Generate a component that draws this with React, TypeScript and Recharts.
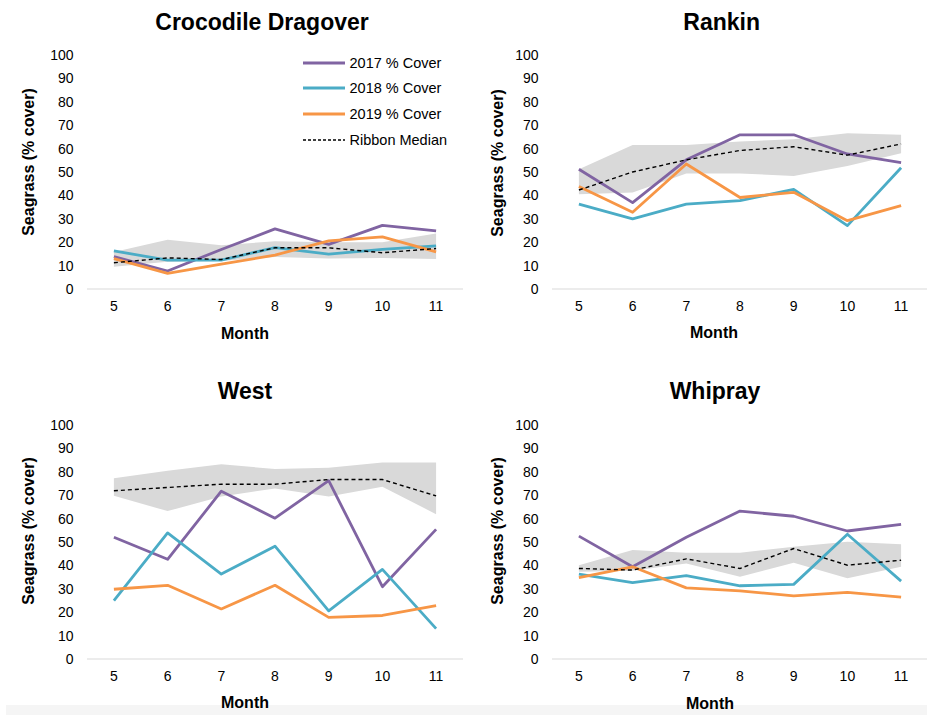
import React from 'react';
import { ComposedChart, Line, Area, XAxis, YAxis, Legend } from 'recharts';

// ---------- data ----------
const months = [5, 6, 7, 8, 9, 10, 11];
const yTicks = [0, 10, 20, 30, 40, 50, 60, 70, 80, 90, 100];

const seriesNames = ['2017 % Cover', '2018 % Cover', '2019 % Cover', 'Ribbon Median'];

// Crocodile Dragover
const cd2017 = [13.8, 7.7, 16.9, 25.7, 19.1, 27.2, 24.8];
const cd2018 = [16.3, 12.3, 12.3, 17.7, 14.9, 16.9, 18.4];
const cd2019 = [13.0, 6.7, 10.6, 14.5, 20.6, 22.3, 15.9];
const cdMedian = [11.2, 13.3, 12.6, 17.6, 17.6, 15.5, 17.3];
const cdLow = [9.5, 11.6, 12.0, 13.7, 13.0, 13.3, 12.8];
const cdHigh = [15.8, 21.1, 18.7, 20.4, 20.0, 20.0, 23.7];

// Rankin
const rk2017 = [51.2, 36.9, 55.2, 65.9, 65.9, 57.7, 54.0];
const rk2018 = [36.3, 30.0, 36.3, 37.8, 42.6, 27.1, 51.8];
const rk2019 = [43.8, 32.8, 53.4, 39.1, 41.3, 29.2, 35.6];
const rkMedian = [42.3, 50.0, 55.2, 59.2, 60.8, 57.2, 62.0];
const rkLow = [40.5, 41.2, 49.4, 49.4, 48.3, 52.6, 58.0];
const rkHigh = [51.2, 61.5, 61.5, 63.0, 64.0, 66.6, 65.9];

// West
const w2017 = [52.0, 42.6, 71.7, 60.2, 76.2, 30.9, 55.4];
const w2018 = [24.9, 53.9, 36.3, 48.2, 20.6, 38.3, 13.0];
const w2019 = [29.8, 31.5, 21.4, 31.5, 17.8, 18.6, 22.8];
const wMedian = [71.9, 73.3, 74.7, 74.7, 76.7, 76.7, 69.7];
const wLow = [69.8, 63.2, 69.4, 72.9, 69.4, 73.6, 61.9];
const wHigh = [77.2, 80.5, 83.2, 81.2, 81.7, 84.0, 84.0];

// Whipray
const wp2017 = [52.5, 39.4, 52.0, 63.2, 61.0, 54.7, 57.5];
const wp2018 = [36.3, 32.6, 35.6, 31.3, 31.9, 53.3, 33.3];
const wp2019 = [34.8, 39.4, 30.4, 29.1, 27.0, 28.5, 26.4];
const wpMedian = [38.7, 38.0, 42.8, 38.7, 47.2, 40.1, 42.2];
const wpLow = [37.3, 37.7, 40.8, 35.2, 41.1, 34.5, 39.4];
const wpHigh = [40.1, 46.6, 45.4, 45.4, 48.0, 50.1, 49.0];

// ---------- styles ----------
const FONT = '"Liberation Sans", Arial, Helvetica, sans-serif';
const C2017 = '#8064A2';
const C2018 = '#4BACC6';
const C2019 = '#F79646';
const CMED = '#000000';
const CRIB = '#D9D9D9';

const legendItems = [
  { name: seriesNames[0], color: C2017, dash: undefined as string | undefined, w: 3 },
  { name: seriesNames[1], color: C2018, dash: undefined as string | undefined, w: 3 },
  { name: seriesNames[2], color: C2019, dash: undefined as string | undefined, w: 3 },
  { name: seriesNames[3], color: CMED, dash: '3 2', w: 1.3 },
];

function buildData(a: number[], b: number[], c: number[], m: number[], lo: number[], hi: number[]) {
  return months.map((mo, i) => ({
    month: mo,
    y2017: a[i],
    y2018: b[i],
    y2019: c[i],
    median: m[i],
    ribbon: [lo[i], hi[i]],
  }));
}

const LegendBox = () => (
  <div style={{ fontFamily: FONT, fontSize: 14.5, color: '#000' }}>
    {legendItems.map((it) => (
      <div key={it.name} style={{ display: 'flex', alignItems: 'center', height: 25.6 }}>
        <svg width={47} height={10} style={{ display: 'block' }}>
          <line x1={0} x2={42} y1={5} y2={5} stroke={it.color} strokeWidth={it.w} strokeDasharray={it.dash} />
        </svg>
        <span style={{ whiteSpace: 'nowrap' }}>{it.name}</span>
      </div>
    ))}
  </div>
);

const Y_AXIS_W = 80;
const PLOT_W = 376;
const PLOT_H = 234;
const X_PAD = 26.9;

type PanelProps = {
  title: string;
  data: any[];
  plotLeft: number;
  plotTop: number;
  titleX: number;
  titleY: number;
  yLabelX: number;
  yLabelY: number;
  monthX: number;
  monthY: number;
  legend?: boolean;
};

const Panel = (p: PanelProps) => {
  const chartW = Y_AXIS_W + PLOT_W + 10;
  const chartH = 10 + PLOT_H + 40;
  return (
    <>
      <div
        style={{
          position: 'absolute', left: p.titleX, top: p.titleY, transform: 'translate(-50%, -50%)',
          fontFamily: FONT, fontWeight: 700, fontSize: 23, whiteSpace: 'nowrap', color: '#000',
        }}
      >
        {p.title}
      </div>
      <div
        style={{
          position: 'absolute', left: p.yLabelX, top: p.yLabelY, transform: 'translate(-50%, -50%) rotate(-90deg)',
          fontFamily: FONT, fontWeight: 700, fontSize: 16, whiteSpace: 'nowrap', color: '#000',
        }}
      >
        Seagrass (% cover)
      </div>
      <div
        style={{
          position: 'absolute', left: p.monthX, top: p.monthY, transform: 'translate(-50%, -50%)',
          fontFamily: FONT, fontWeight: 700, fontSize: 16, whiteSpace: 'nowrap', color: '#000',
        }}
      >
        Month
      </div>
      <div style={{ position: 'absolute', left: p.plotLeft - Y_AXIS_W, top: p.plotTop - 10 }}>
        <ComposedChart width={chartW} height={chartH} data={p.data} margin={{ top: 10, right: 10, bottom: 0, left: 0 }}>
          <XAxis
            dataKey="month"
            type="category"
            height={40}
            padding={{ left: X_PAD, right: X_PAD }}
            axisLine={{ stroke: '#D9D9D9', strokeWidth: 1.2 }}
            tickLine={false}
            tickSize={0}
            tickMargin={12.5}
            interval={0}
            tick={{ fill: '#000', fontSize: 14, fontFamily: FONT }}
          />
          <YAxis
            type="number"
            domain={[0, 100]}
            ticks={yTicks}
            interval={0}
            width={Y_AXIS_W}
            axisLine={false}
            tickLine={false}
            tickSize={0}
            tickMargin={13.5}
            tick={{ fill: '#000', fontSize: 14, fontFamily: FONT }}
          />
          <Area
            dataKey="ribbon"
            type="linear"
            fill={CRIB}
            fillOpacity={1}
            stroke="none"
            isAnimationActive={false}
            legendType="none"
            activeDot={false}
          />
          <Line dataKey="y2017" name={seriesNames[0]} type="linear" stroke={C2017} strokeWidth={2.8} dot={false} isAnimationActive={false} strokeLinejoin="round" />
          <Line dataKey="y2018" name={seriesNames[1]} type="linear" stroke={C2018} strokeWidth={2.8} dot={false} isAnimationActive={false} strokeLinejoin="round" />
          <Line dataKey="y2019" name={seriesNames[2]} type="linear" stroke={C2019} strokeWidth={2.8} dot={false} isAnimationActive={false} strokeLinejoin="round" />
          <Line dataKey="median" name={seriesNames[3]} type="linear" stroke={CMED} strokeWidth={1.4} strokeDasharray="4 3" dot={false} isAnimationActive={false} />
          {p.legend ? (
            <Legend
              layout="vertical"
              align="center"
              verticalAlign="middle"
              content={() => <LegendBox />}
              wrapperStyle={{ position: 'absolute', left: 296, top: 5, width: 190, height: 'auto' }}
            />
          ) : null}
        </ComposedChart>
      </div>
    </>
  );
};

const cdData = buildData(cd2017, cd2018, cd2019, cdMedian, cdLow, cdHigh);
const rkData = buildData(rk2017, rk2018, rk2019, rkMedian, rkLow, rkHigh);
const wData = buildData(w2017, w2018, w2019, wMedian, wLow, wHigh);
const wpData = buildData(wp2017, wp2018, wp2019, wpMedian, wpLow, wpHigh);

export default function App() {
  return (
    <div style={{ position: 'absolute', left: 0, top: 0, width: 927, height: 715, overflow: 'hidden', background: '#fff' }}>
      <div style={{ position: 'absolute', left: 6, top: 705, width: 921, height: 10, background: '#F5F5F5' }} />
      <Panel title="Crocodile Dragover" data={cdData} plotLeft={86.5} plotTop={55} titleX={262} titleY={22} yLabelX={29} yLabelY={162} monthX={245} monthY={334} legend />
      <Panel title="Rankin" data={rkData} plotLeft={552.4} plotTop={55} titleX={721.7} titleY={22} yLabelX={498} yLabelY={162.5} monthX={714} monthY={333} />
      <Panel title="West" data={wData} plotLeft={86.5} plotTop={425} titleX={245} titleY={391} yLabelX={29} yLabelY={531} monthX={245} monthY={703} />
      <Panel title="Whipray" data={wpData} plotLeft={552.4} plotTop={425} titleX={715} titleY={391} yLabelX={498} yLabelY={531} monthX={710} monthY={704} />
    </div>
  );
}
